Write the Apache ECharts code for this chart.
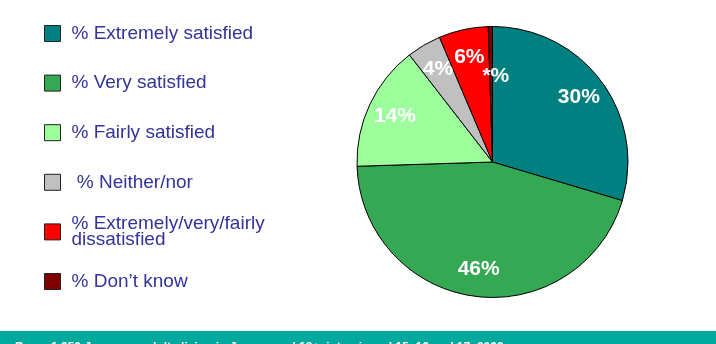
<!DOCTYPE html>
<html>
<head>
<meta charset="utf-8">
<script src="https://cdn.jsdelivr.net/npm/echarts@6/dist/echarts.min.js"></script>
<style>
  html, body { margin: 0; padding: 0; background: #fff; }
  #pie { width: 716px; height: 344px; }
</style>
</head>
<body>
<div id="pie"></div>
<script>
// 满意度饼图 + 左侧图例
var categories = [
    '% Extremely satisfied',
    '% Very satisfied',
    '% Fairly satisfied',
    ' % Neither/nor',
    '% Extremely/very/fairly\ndissatisfied',
    '% Don\u2019t know'
];
// 扇区大小（从图上量角度估出来的）
var shares = [29.6, 44.9, 15.0, 4.1, 5.9, 0.5];
// 图上显示的标签
var shareLabels = ['30%', '46%', '14%', '4%', '6%', '*%'];
var colors = ['#008080', '#34a853', '#9cff9c', '#c0c0c0', '#ff0000', '#7f0000'];
var footnote = 'Base: 1,950 Japanese adults living in Japan aged 18+, interviewed 15, 16 and 17, 2002';

var pieData = [];
for (var i = 0; i < categories.length; i++) {
    pieData.push({name: categories[i], value: shares[i], label: {formatter: shareLabels[i]}});
}

// 每个图例单独放一个，这样行距一致
var legends = [];
for (var j = 0; j < categories.length; j++) {
    var multi = categories[j].indexOf('\n') >= 0;
    legends.push({
        orient: 'vertical',
        left: 44,
        top: 32 + j * 49.6 - (multi ? 16 : 8),
        padding: 0,
        itemWidth: 16,
        itemHeight: 16,
        icon: 'rect',
        selectedMode: false,
        data: [categories[j]],
        itemStyle: {borderColor: '#222', borderWidth: 1},
        textStyle: {
            color: '#333399',
            fontSize: 19,
            fontFamily: 'Liberation Sans, Arial, sans-serif',
            lineHeight: 16,
            padding: [0, 0, 0, 6]
        }
    });
}

var chart = echarts.init(document.getElementById('pie'));
var option = {
    animation: false,
    color: colors,
    legend: legends,
    graphic: [
        {type: 'rect', left: 0, top: 331, shape: {width: 716, height: 13}, style: {fill: '#00a99d'}, silent: true},
        {type: 'text', left: 15, top: 342, style: {text: footnote, fill: '#fff', font: 'bold 12px Liberation Sans, Arial, sans-serif'}, silent: true}
    ],
    series: [
        {
            name: 'slices',
            type: 'pie',
            center: [492.5, 162],
            radius: [0, 135.5],
            startAngle: 90,
            clockwise: true,
            silent: true,
            data: pieData,
            label: {show: false},
            labelLine: {show: false},
            itemStyle: {borderColor: '#000', borderWidth: 1}
        },
        {
            // 透明的环，只用来把标签往外推
            name: 'labels',
            type: 'pie',
            center: [492.5, 162],
            radius: [74, 135.5],
            startAngle: 90,
            clockwise: true,
            silent: true,
            data: pieData,
            itemStyle: {color: 'rgba(0,0,0,0)', borderWidth: 0},
            label: {
                show: true,
                position: 'inside',
                color: '#fff',
                fontSize: 21,
                fontWeight: 'bold',
                fontFamily: 'Liberation Sans, Arial, sans-serif'
            },
            labelLine: {show: false},
            labelLayout: function (p) {
                if (p.dataIndex === 5) {
                    return {dx: 5, dy: 22};
                }
            }
        }
    ]
};
chart.setOption(option);
</script>
</body>
</html>
